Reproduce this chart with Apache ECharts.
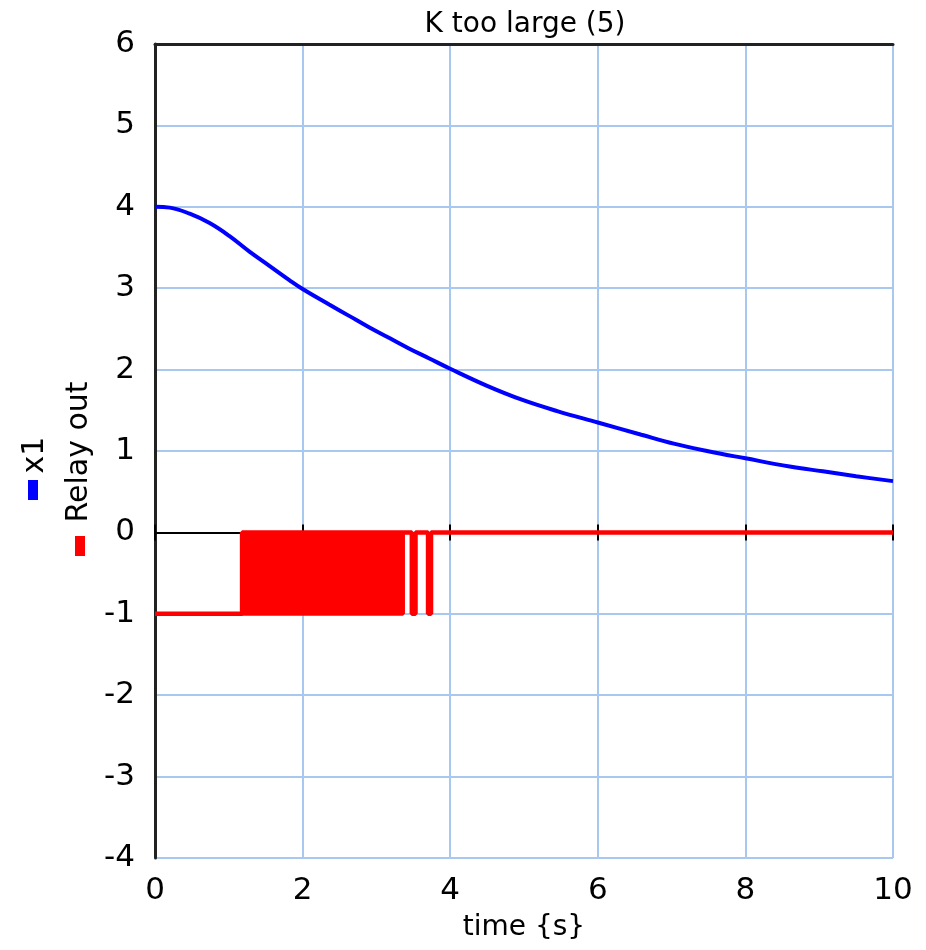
<!DOCTYPE html>
<html><head><meta charset="utf-8">
<script src="https://cdn.jsdelivr.net/npm/echarts@6/dist/echarts.min.js"></script>
<style>html,body{margin:0;padding:0;background:#fff}#chart{width:926px;height:950px}</style>
</head><body><div id="chart"></div>
<script>
// ---- data ----
const chartTitle = 'K too large (5)';
const xAxisName = 'time {s}';
const seriesNames = ['x1', 'Relay out'];
const xMin = 0, xMax = 10, xStep = 2;
const yMin = -4, yMax = 6, yStep = 1;

const x1Time  = [0, 0.2, 0.47, 0.74, 1.01, 1.28, 1.55, 1.82, 2.0, 2.36, 2.63, 2.9, 3.17, 3.44, 3.71, 4.0, 4.5, 4.97, 5.45, 6.0, 6.59, 7.03, 7.48, 8.0, 8.6, 9.05, 9.5, 10];
const x1Value = [4.0, 3.99, 3.915, 3.8, 3.64, 3.45, 3.275, 3.1, 2.99, 2.8, 2.66, 2.52, 2.39, 2.26, 2.14, 2.01, 1.8, 1.63, 1.49, 1.35, 1.2, 1.09, 1.0, 0.91, 0.81, 0.75, 0.69, 0.63];

// relay output: step signal (switching instants and levels)
const relayTime  = [0, 1.18, 1.18, 3.36, 3.48, 3.48, 3.53, 3.53, 3.70, 3.70, 3.74, 3.74, 10];
const relayValue = [-1, -1, 0, 0, 0, -1, -1, 0, 0, -1, -1, 0, 0];
// interval of very fast chattering between the two levels (renders as a solid band)
const chatterTime  = [1.18, 1.18, 3.36, 3.36];
const chatterValue = [0, -1, -1, 0];

// ---- styles ----
const FONT = 'DejaVu Sans';
const GRID = '#a8c8f0';
const BLUE = '#0000ff';
const RED = '#ff0000';

const zip = (a, b) => a.map((v, i) => [v, b[i]]);

const chart = echarts.init(document.getElementById('chart'), null, {renderer: 'canvas'});
const hiddenX = {type: 'value', min: xMin, max: xMax, interval: xStep, axisLabel: {show: false}, splitLine: {show: false}};
chart.setOption({
  animation: false,
  backgroundColor: '#fff',
  grid: {left: 155, right: 33, top: 44, bottom: 92},
  xAxis: [
    {type: 'value', position: 'bottom', min: xMin, max: xMax, interval: xStep,
     axisLine: {show: false, onZero: false}, axisTick: {show: false},
     axisLabel: {fontSize: 31, color: '#000', fontFamily: FONT, margin: 17},
     splitLine: {show: true, lineStyle: {color: GRID, width: 2}},
     name: xAxisName, nameLocation: 'middle', nameGap: 56,
     nameTextStyle: {fontSize: 28, color: '#000', fontFamily: FONT}},
    Object.assign({}, hiddenX, {position: 'bottom',
     axisLine: {show: true, onZero: true, onZeroAxisIndex: 0, lineStyle: {color: '#000', width: 2}},
     axisTick: {show: true, length: 8, lineStyle: {color: '#000', width: 2}}}),
    Object.assign({}, hiddenX, {position: 'top',
     axisLine: {show: false, onZero: true, onZeroAxisIndex: 1},
     axisTick: {show: true, length: 8, lineStyle: {color: '#000', width: 2}}}),
    Object.assign({}, hiddenX, {position: 'top',
     axisLine: {show: true, onZero: false, lineStyle: {color: '#222', width: 3}},
     axisTick: {show: false}})
  ],
  yAxis: [
    {type: 'value', position: 'left', min: yMin, max: yMax, interval: yStep,
     axisLine: {show: true, onZero: false, lineStyle: {color: '#222', width: 3}},
     axisTick: {show: false},
     axisLabel: {fontSize: 31, color: '#000', fontFamily: FONT, margin: 20},
     splitLine: {show: true, lineStyle: {color: GRID, width: 2}}},
    {type: 'value', position: 'right', min: yMin, max: yMax, interval: yStep,
     axisLine: {show: false, onZero: false}, axisTick: {show: false},
     axisLabel: {show: false}, splitLine: {show: false}}
  ],
  series: [
    {name: seriesNames[1] + ' (chatter)', type: 'line', xAxisIndex: 0, yAxisIndex: 0,
     data: zip(chatterTime, chatterValue), showSymbol: false, symbol: 'none',
     lineStyle: {color: RED, width: 4}, areaStyle: {color: RED, opacity: 1, origin: 0}, z: 3},
    {name: seriesNames[1], type: 'line', xAxisIndex: 0, yAxisIndex: 0,
     data: zip(relayTime, relayValue), showSymbol: false, symbol: 'none',
     lineStyle: {color: RED, width: 4.5}, z: 3},
    {name: seriesNames[0], type: 'line', xAxisIndex: 0, yAxisIndex: 0,
     data: zip(x1Time, x1Value), showSymbol: false, symbol: 'none', smooth: 0.4,
     lineStyle: {color: BLUE, width: 4}, z: 4}
  ],
  graphic: [
    {type: 'text', x: 525, y: 25, style: {text: chartTitle, font: '28px "DejaVu Sans"', fill: '#000',
      align: 'center', verticalAlign: 'middle', textAlign: 'center', textVerticalAlign: 'middle'}},
    {type: 'text', x: 35, y: 455, rotation: Math.PI / 2, style: {text: seriesNames[0], font: '30px "DejaVu Sans"', fill: '#000',
      align: 'center', verticalAlign: 'middle', textAlign: 'center', textVerticalAlign: 'middle'}},
    {type: 'rect', shape: {x: 28, y: 480, width: 10, height: 20}, style: {fill: BLUE}},
    {type: 'text', x: 79, y: 452, rotation: Math.PI / 2, style: {text: seriesNames[1], font: '30px "DejaVu Sans"', fill: '#000',
      align: 'center', verticalAlign: 'middle', textAlign: 'center', textVerticalAlign: 'middle'}},
    {type: 'rect', shape: {x: 75, y: 536, width: 10, height: 20}, style: {fill: RED}}
  ]
});
</script></body></html>
